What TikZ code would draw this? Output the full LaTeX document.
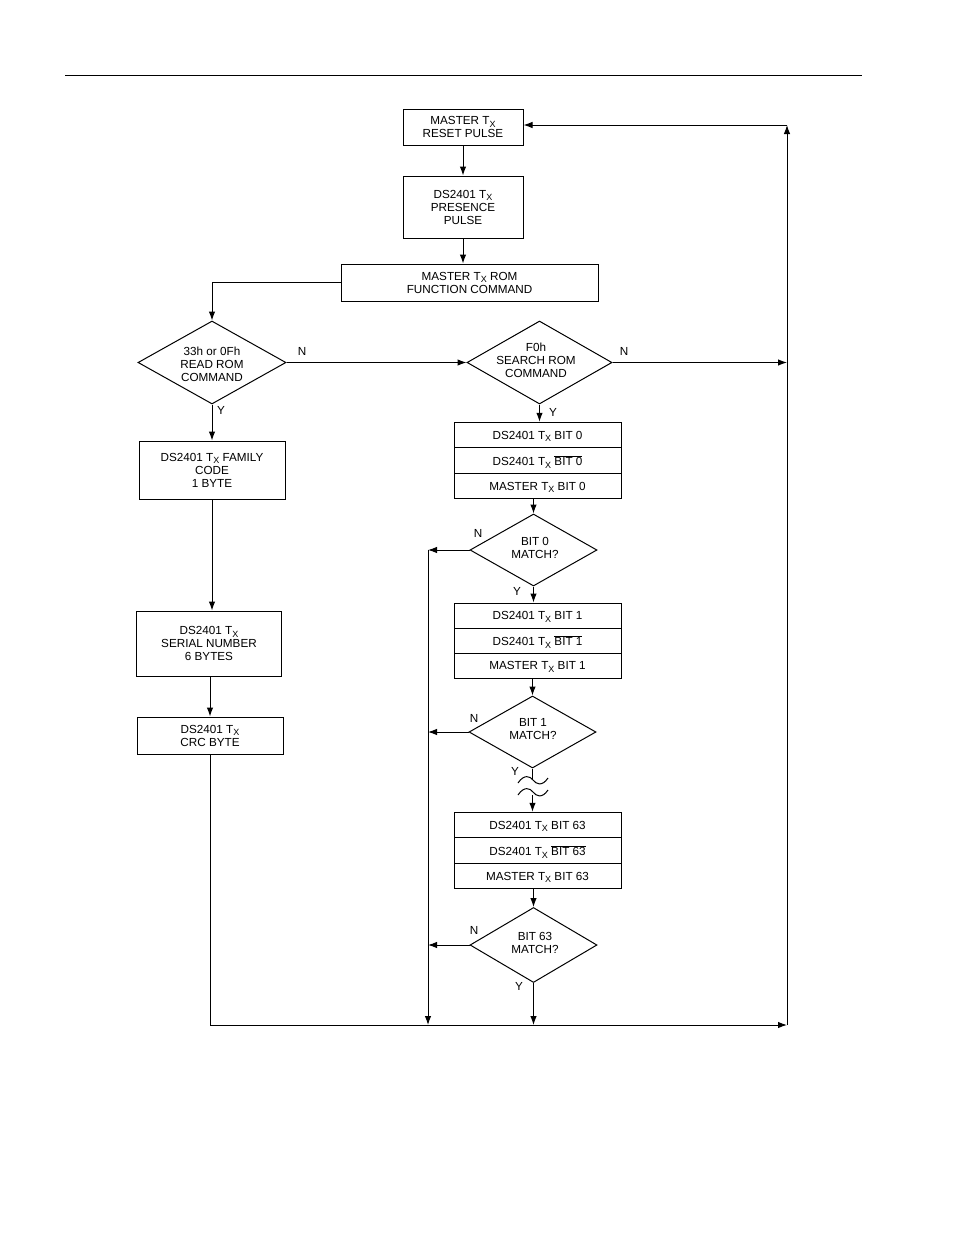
\documentclass[tikz,border=0pt]{standalone}
\usepackage{fontspec}
\setmainfont{Liberation Sans}
\usetikzlibrary{shapes.geometric,arrows.meta}
\newcommand{\TX}{T\raisebox{-0.45ex}[0pt][0pt]{\fontsize{9}{9}\selectfont X}}
\newcommand{\ovl}[1]{$\overline{\mbox{#1}}$}
\begin{document}
\begin{tikzpicture}[x=1pt,y=-1pt, font=\fontsize{11.7}{13}\selectfont,
  box/.style={draw, line width=1pt, inner sep=0pt, align=center},
  dia/.style={draw, diamond, line width=1pt, inner sep=0pt},
  txt/.style={inner sep=0pt, align=center},
  arr/.style={-{Latex[length=9pt,width=6.5pt]}, line width=1pt},
  ln/.style={line width=1pt},
  lbl/.style={inner sep=0pt}]
\useasboundingbox (0,0) rectangle (954,1235);
\draw[line width=1pt] (65,75) -- (862,75);

% top column
\node[box, minimum width=120pt, minimum height=36pt] (box1) at (463,127) {MASTER \TX\\RESET PULSE};
\node[box, minimum width=120pt, minimum height=62pt] (box2) at (463,207) {DS2401 \TX\\PRESENCE\\PULSE};
\node[box, minimum width=257pt, minimum height=37pt] (box3) at (469.5,282.5) {MASTER \TX{} ROM\\FUNCTION COMMAND};

% decisions
\node[dia, minimum width=148pt, minimum height=83pt] (d1) at (212,362.5) {};
\node[txt] (d1t) at (212,364) {33h or 0Fh\\READ ROM\\COMMAND};
\node[dia, minimum width=145pt, minimum height=83pt] (d2) at (539.5,362.5) {};
\node[txt] (d2t) at (536,360) {F0h\\SEARCH ROM\\COMMAND};

% left column
\node[box, minimum width=146pt, minimum height=58pt] (fam) at (212,470) {DS2401 \TX{} FAMILY\\CODE\\1 BYTE};
\node[box, minimum width=145pt, minimum height=65pt] (ser) at (209,643.5) {DS2401 \TX\\SERIAL NUMBER\\6 BYTES};
\node[box, minimum width=146pt, minimum height=37pt] (crc) at (210,735.5) {DS2401 \TX\\CRC BYTE};

% bit 0
\node[box, minimum width=167pt, minimum height=25.5pt] (b0a) at (537.5,435) {DS2401 \TX{} BIT 0};
\node[box, minimum width=167pt, minimum height=25.5pt] (b0b) at (537.5,460.5) {DS2401 \TX{} \ovl{BIT 0}};
\node[box, minimum width=167pt, minimum height=25.5pt] (b0c) at (537.5,486) {MASTER \TX{} BIT 0};
\node[dia, minimum width=127pt, minimum height=72pt] (db0) at (533.5,550) {};
\node[txt] (db0t) at (535,548) {BIT 0\\MATCH?};

% bit 1
\node[box, minimum width=167pt, minimum height=25pt] (b1a) at (537.5,615.5) {DS2401 \TX{} BIT 1};
\node[box, minimum width=167pt, minimum height=25pt] (b1b) at (537.5,640.5) {DS2401 \TX{} \ovl{BIT 1}};
\node[box, minimum width=167pt, minimum height=25pt] (b1c) at (537.5,665.5) {MASTER \TX{} BIT 1};
\node[dia, minimum width=127pt, minimum height=72pt] (db1) at (532.5,732) {};
\node[txt] (db1t) at (533,729) {BIT 1\\MATCH?};

% bit 63
\node[box, minimum width=167pt, minimum height=25.5pt] (b63a) at (537.5,825) {DS2401 \TX{} BIT 63};
\node[box, minimum width=167pt, minimum height=25.5pt] (b63b) at (537.5,850.5) {DS2401 \TX{} \ovl{BIT 63}};
\node[box, minimum width=167pt, minimum height=25.5pt] (b63c) at (537.5,876) {MASTER \TX{} BIT 63};
\node[dia, minimum width=127pt, minimum height=75pt] (db63) at (533.5,945) {};
\node[txt] (db63t) at (535,943) {BIT 63\\MATCH?};

% labels
\node[lbl] (n1) at (302,351) {N};
\node[lbl] (n2) at (624,351) {N};
\node[lbl] (y1) at (221,410) {Y};
\node[lbl] (y2) at (553,412) {Y};
\node[lbl] (n3) at (478,533) {N};
\node[lbl] (y3) at (517,591) {Y};
\node[lbl] (n4) at (474,718) {N};
\node[lbl] (y4) at (515,771) {Y};
\node[lbl] (n5) at (474,930) {N};
\node[lbl] (y5) at (519,986) {Y};

% coordinates
\coordinate (rtop) at (787,125);
\coordinate (rmid) at (787,362.5);
\coordinate (rbot) at (787,1025);
\coordinate (ltop) at (428,550);
\coordinate (lbot) at (428,1025);
\coordinate (sq1) at (532.5,779);
\coordinate (sq2) at (532.5,795);

% connectors
\draw[arr] (box1) -- (box2);
\draw[arr] (box2.south) -- (box2.south |- box3.north);
\draw[arr] (box3.west) -| (d1.north);
\draw[arr] (d1.east) -- (d2.west);
\draw[arr] (d2.east) -- (rmid);
\draw[arr] (d1.south) -- (fam.north);
\draw[arr] (fam.south) -- (fam.south |- ser.north);
\draw[arr] (ser.south -| crc.north) -- (crc.north);
\draw[arr] (crc.south) |- (rbot);
\draw[arr] (rbot) -- (rtop);
\draw[arr] (rtop) -- (box1.east |- rtop);

\draw[arr] (d2.south) -- (d2.south |- b0a.north);
\draw[arr] (db0.north |- b0c.south) -- (db0.north);
\draw[arr] (db0.south) -- (db0.south |- b1a.north);
\draw[arr] (db1.north |- b1c.south) -- (db1.north);
\draw[ln] (db1.south) -- (sq1);
\draw[arr] (sq2) -- (sq2 |- b63a.north);
\draw[arr] (db63.north |- b63c.south) -- (db63.north);
\draw[arr] (db63.south) -- (db63.south |- rbot);

\draw[arr] (db0.west) -- (db0.west -| ltop);
\draw[arr] (db1.west) -- (db1.west -| ltop);
\draw[arr] (db63.west) -- (db63.west -| ltop);
\draw[arr] (ltop) -- (lbot);

% break marks
\draw[ln] (518,783) .. controls (524,774) and (530,776) .. (533,780) .. controls (536,784) and (542,787) .. (548,778);
\draw[ln] (518,795) .. controls (524,786) and (530,788) .. (533,792) .. controls (536,796) and (542,799) .. (548,790);
\end{tikzpicture}
\end{document}
